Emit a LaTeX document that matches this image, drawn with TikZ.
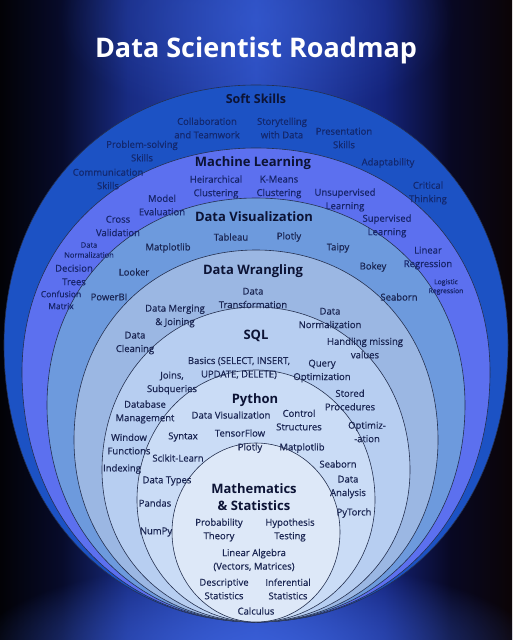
\documentclass[tikz,border=0pt]{standalone}
\usepackage{fontspec}
\setmainfont{Open Sans}
\newfontfamily\itemfont[FakeBold=0.5]{Open Sans}
\usetikzlibrary{fadings}
\definecolor{ringA}{HTML}{1C52C4}
\definecolor{ringB}{HTML}{5C70EF}
\definecolor{ringC}{HTML}{6D9ADD}
\definecolor{ringD}{HTML}{9BB7E3}
\definecolor{ringE}{HTML}{B7CEF1}
\definecolor{ringF}{HTML}{CADCF6}
\definecolor{ringG}{HTML}{DDE8F8}
\definecolor{edgec}{HTML}{243050}
\definecolor{headc}{HTML}{0C1335}
\definecolor{itemc}{HTML}{1A2552}
\definecolor{softc}{HTML}{13286E}
\definecolor{mlc}{HTML}{17256A}
\definecolor{bgA}{HTML}{020206}
\definecolor{bgB}{HTML}{070B2A}
\definecolor{bgM}{HTML}{182B82}
\definecolor{bgC}{HTML}{2B4DBE}
\definecolor{bgN}{HTML}{14237A}
\definecolor{bgO}{HTML}{080823}
\definecolor{bgR}{HTML}{0B0406}
\definecolor{glowc}{HTML}{3A5FD8}
\pgfdeclarehorizontalshading{bgshade}{100bp}{color(0bp)=(bgA); color(25bp)=(bgA); color(31bp)=(bgB); color(37.5bp)=(bgM); color(50bp)=(bgC); color(62.5bp)=(bgN); color(69bp)=(bgO); color(75bp)=(bgR); color(100bp)=(bgR)}
\tikzfading[name=glowfade, inner color=transparent!0, outer color=transparent!100]
\newcommand\eggshape[5]{%
 \filldraw[ringedge, fill=#5]
 (256,#1) .. controls ({256-#4*#3},#1) and ({256-#3},{#2-#4*(#2-#1)}) .. ({256-#3},#2)
 .. controls ({256-#3},{#2+#4*(622-#2)}) and ({256-#4*#3},622) .. (256,622)
 .. controls ({256+#4*#3},622) and ({256+#3},{#2+#4*(622-#2)}) .. ({256+#3},#2)
 .. controls ({256+#3},{#2-#4*(#2-#1)}) and ({256+#4*#3},#1) .. (256,#1) -- cycle;}
\begin{document}
\begin{tikzpicture}[x=1pt,y=-1pt,
  ringedge/.style={draw=edgec, line width=0.6pt},
  title/.style={text=white, font={\fontsize{27}{30}\selectfont\bfseries}, inner sep=0pt},
  head/.style={text=headc, font={\fontsize{13}{17}\selectfont\bfseries}, align=center, inner sep=0pt},
  item/.style={text=itemc, font={\itemfont\fontsize{9.5}{13.5}\selectfont}, align=center, inner sep=0pt},
  soft/.style={item, text=softc},
  mlitem/.style={item, text=mlc},
  small/.style={item, text=mlc, font={\itemfont\fontsize{7.5}{10}\selectfont}},
  tiny/.style={item, text=mlc, font={\itemfont\fontsize{6.8}{9}\selectfont}}]
\useasboundingbox (0,0) rectangle (512,640);
\shade[shading=bgshade] (0,0) rectangle (512,640);
\fill[glowc, path fading=glowfade] (256,650) ellipse (280 and 90);
\fill[glowc, path fading=glowfade, opacity=0.45] (256,20) ellipse (200 and 100);
% rings
\eggshape{85}{345}{252}{0.58}{ringA}
\eggshape{148}{372}{234}{0.58}{ringB}
\eggshape{198}{405}{209}{0.58}{ringC}
\eggshape{250}{440}{182}{0.58}{ringD}
\eggshape{307}{470}{154}{0.57}{ringE}
\eggshape{370}{500}{119}{0.56}{ringF}
\eggshape{443}{532}{84}{0.5523}{ringG}
% title
\node[title] (t) at (256,50) {Data Scientist Roadmap};
% soft skills
\node[head, font={\fontsize{12.5}{16}\selectfont\bfseries}] (s0) at (256,99) {Soft Skills};
\node[soft] (s1) at (207,128) {Collaboration\\and Teamwork};
\node[soft] (s2) at (282,128) {Storytelling\\with Data};
\node[soft] (s3) at (344,138) {Presentation\\Skills};
\node[soft] (s4) at (142,151) {Problem-solving\\Skills};
\node[soft] (s5) at (388,163) {Adaptability};
\node[soft] (s6) at (108,179) {Communication\\Skills};
\node[soft] (s7) at (428,193) {Critical\\Thinking};
% machine learning
\node[head] (m0) at (253,163) {Machine Learning};
\node[mlitem] (m1) at (216,187) {Heirarchical\\Clustering};
\node[mlitem] (m2) at (279,187) {K-Means\\Clustering};
\node[mlitem] (m3) at (345,200) {Unsupervised\\Learning};
\node[mlitem] (m4) at (162,205) {Model\\Evaluation};
\node[mlitem] (m5) at (118,226) {Cross\\Validation};
\node[mlitem] (m6) at (387,226) {Supervised\\Learning};
\node[small] (m7) at (89,250) {Data\\Normalization};
\node[mlitem] (m8) at (428,258) {Linear\\Regression};
\node[mlitem] (m9) at (74,275) {Decision\\Trees};
\node[tiny] (m10) at (446,287) {Logistic\\Regression};
\node[mlitem, font={\itemfont\fontsize{8.5}{12}\selectfont}] (m11) at (61,300) {Confusion\\Matrix};
% data visualization
\node[head] (v0) at (254,217) {Data Visualization};
\node[item] (v1) at (231,237) {Tableau};
\node[item] (v2) at (289,237) {Plotly};
\node[item] (v3) at (168,248) {Matplotlib};
\node[item] (v4) at (338,248) {Taipy};
\node[item] (v5) at (134,272) {Looker};
\node[item] (v6) at (373,267) {Bokey};
\node[item] (v7) at (109,297) {PowerBI};
\node[item] (v8) at (399,297) {Seaborn};
% data wrangling
\node[head] (w0) at (253,271) {Data Wrangling};
\node[item] (w1) at (253,298) {Data\\Transformation};
\node[item] (w2) at (175,316) {Data Merging\\\& Joining};
\node[item] (w3) at (330,318) {Data\\Normalization};
\node[item] (w4) at (135,343) {Data\\Cleaning};
\node[item] (w5) at (365,348) {Handling missing\\values};
% sql
\node[head] (q0) at (256,336) {SQL};
\node[item] (q1) at (239,368) {Basics (SELECT, INSERT,\\UPDATE, DELETE)};
\node[item] (q2) at (322,371) {Query\\Optimization};
\node[item] (q3) at (172,383) {Joins,\\Subqueries};
\node[item] (q4) at (145,412) {Database\\Management};
\node[item] (q5) at (350,400) {Stored\\Procedures};
\node[item] (q6) at (129,444) {Window\\Functions};
\node[item] (q7) at (367,432) {Optimiz-\\-ation};
\node[item] (q8) at (122,469) {Indexing};
% python
\node[head] (p0) at (255,400) {Python};
\node[item] (p1) at (231,415) {Data Visualization};
\node[item] (p2) at (299,420) {Control\\Structures};
\node[item] (p3) at (183,437) {Syntax};
\node[item] (p4) at (240,433) {TensorFlow};
\node[item] (p5) at (250,448) {Plotly};
\node[item] (p6) at (302,448) {Matplotlib};
\node[item] (p7) at (178,458) {Scikit-Learn};
\node[item] (p8) at (338,464) {Seaborn};
\node[item] (p9) at (167,481) {Data Types};
\node[item] (p10) at (348,487) {Data\\Analysis};
\node[item] (p11) at (155,503) {Pandas};
\node[item] (p12) at (354,513) {PyTorch};
\node[item] (p13) at (156,532) {NumPy};
% mathematics
\node[head] (a0) at (254,497) {Mathematics\\\& Statistics};
\node[item] (a1) at (219,530) {Probability\\Theory};
\node[item] (a2) at (290,530) {Hypothesis\\Testing};
\node[item] (a3) at (254,560) {Linear Algebra\\(Vectors, Matrices)};
\node[item] (a4) at (224,589) {Descriptive\\Statistics};
\node[item] (a5) at (288,589) {Inferential\\Statistics};
\node[item] (a6) at (256,611) {Calculus};
\end{tikzpicture}
\end{document}
